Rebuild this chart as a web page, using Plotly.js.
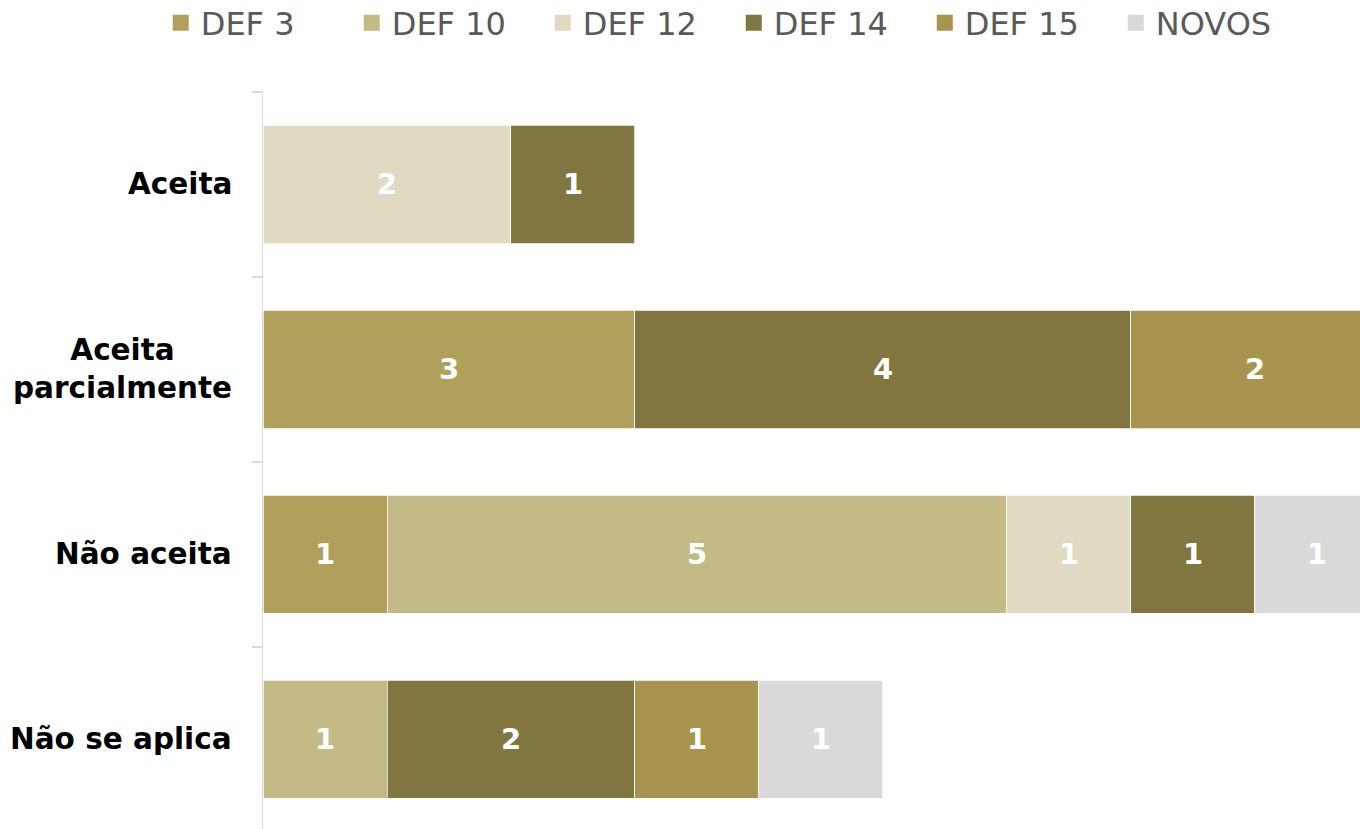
<!DOCTYPE html>
<html>
<head>
<meta charset="utf-8">
<script src="https://cdn.plot.ly/plotly-3.0.1.min.js"></script>
<style>
  html, body { margin: 0; padding: 0; background: #ffffff; }
  #chart { width: 1360px; height: 829px; }
</style>
</head>
<body>
<div id="chart"></div>
<script>
// ---- data ----
const categories = ['Aceita', 'Aceita parcialmente', 'Não aceita', 'Não se aplica'];
const categoryLabels = ['Aceita', 'Aceita<br>parcialmente', 'Não aceita', 'Não se aplica'];
const seriesNames = ['DEF 3', 'DEF 10', 'DEF 12', 'DEF 14', 'DEF 15', 'NOVOS'];
const def3  = [null, 3, 1, null];
const def10 = [null, null, 5, 1];
const def12 = [2, null, 1, null];
const def14 = [1, 4, 1, 2];
const def15 = [null, 2, null, 1];
const novos = [null, null, 1, 1];
const seriesValues = [def3, def10, def12, def14, def15, novos];
const seriesColors = ['#B0A05B', '#C4BA86', '#E0DAC2', '#827640', '#A7954F', '#D9D9D9'];

const FONT = 'DejaVu Sans, Verdana, sans-serif';

const barTraces = seriesNames.map((name, i) => ({
  type: 'bar',
  orientation: 'h',
  name: name,
  legendgroup: name,
  showlegend: false,
  y: categories,
  x: seriesValues[i],
  marker: { color: seriesColors[i], line: { color: '#ffffff', width: 0.75 } },
  texttemplate: '%{x}',
  textposition: 'inside',
  insidetextanchor: 'middle',
  textangle: 0,
  constraintext: 'none',
  textfont: { family: FONT, size: 29, color: '#ffffff', weight: 'bold' },
  hoverinfo: 'skip'
}));

// legend keys (larger square swatches) linked to the bar series
const legendTraces = seriesNames.map((name, i) => ({
  type: 'scatter',
  mode: 'markers',
  name: name,
  legendgroup: name,
  showlegend: true,
  x: [null],
  y: [null],
  marker: { symbol: 'square', size: 16, color: seriesColors[i], line: { width: 0 } },
  hoverinfo: 'skip'
}));

const annotations = categories.map((c, i) => ({
  xref: 'paper', yref: 'y',
  x: 0, y: c,
  xanchor: 'right', yanchor: 'middle',
  xshift: -29,
  align: 'center',
  showarrow: false,
  text: categoryLabels[i],
  font: { family: FONT, size: 29.5, color: '#000000', weight: 'bold' }
}));

const layout = {
  width: 1360,
  height: 829,
  margin: { l: 263, r: 0, t: 92, b: 0, autoexpand: false },
  paper_bgcolor: '#ffffff',
  plot_bgcolor: '#ffffff',
  barmode: 'stack',
  bargap: 0.362,
  showlegend: true,
  legend: {
    orientation: 'h',
    x: -0.0932, xanchor: 'left',
    y: 1.0937, yanchor: 'middle',
    entrywidthmode: 'pixels',
    entrywidth: 146,
    traceorder: 'normal',
    itemsizing: 'trace',
    font: { family: FONT, size: 32, color: '#595959' },
    bgcolor: 'rgba(0,0,0,0)'
  },
  xaxis: {
    range: [0, 8.847],
    visible: false,
    showgrid: false,
    zeroline: false,
    fixedrange: true
  },
  yaxis: {
    type: 'category',
    categoryorder: 'array',
    categoryarray: categories,
    range: [3.484, -0.5],
    showline: true,
    linecolor: '#D9D9D9',
    linewidth: 1.5,
    ticks: 'outside',
    tickson: 'boundaries',
    ticklen: 10,
    tickwidth: 1.5,
    tickcolor: '#D9D9D9',
    showticklabels: false,
    showgrid: false,
    zeroline: false,
    fixedrange: true
  },
  annotations: annotations,
  font: { family: FONT }
};

Plotly.newPlot('chart', barTraces.concat(legendTraces), layout, { displayModeBar: false, staticPlot: true });
</script>
</body>
</html>
